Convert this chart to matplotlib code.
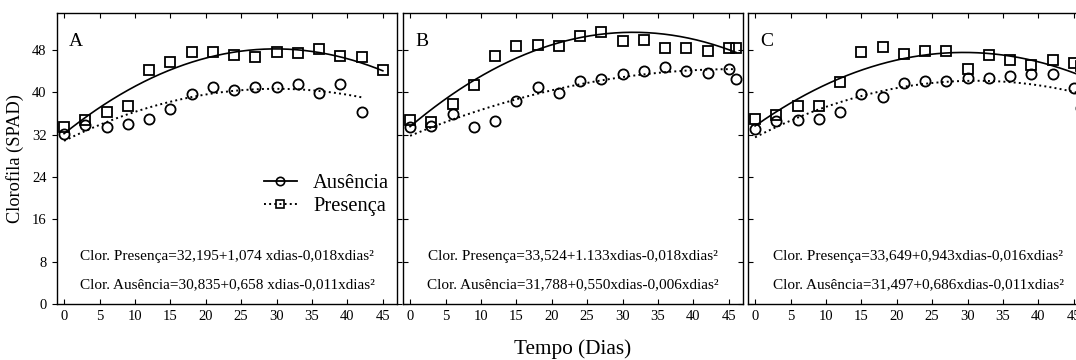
import numpy as np
import matplotlib
matplotlib.use('Agg')
import matplotlib.pyplot as plt
from matplotlib.lines import Line2D

plt.rcParams['font.family'] = ['Liberation Serif', 'DejaVu Serif']

# dias de avaliacao
dias_A = [0, 3, 6, 9, 12, 15, 18, 21, 24, 27, 30, 33, 36, 39, 42, 45]
dias_B = [0, 3, 6, 9, 12, 15, 18, 21, 24, 27, 30, 33, 36, 39, 42, 45, 46]
dias_C = [0, 3, 6, 9, 12, 15, 18, 21, 24, 27, 30, 33, 36, 39, 42, 45, 46]

# clorofila (SPAD)
pres_A = [33.4, 34.8, 36.3, 37.4, 44.3, 45.8, 47.6, 47.6, 47.1, 46.7, 47.6, 47.5, 48.2, 46.9, 46.7, 44.2]
aus_A = [32.1, 33.8, 33.5, 34.0, 35.0, 36.8, 39.6, 41.1, 40.4, 41.0, 41.1, 41.6, 39.8, 41.5, 36.3]

pres_B = [34.8, 34.4, 37.8, 41.3, 46.9, 48.8, 49.0, 48.7, 50.7, 51.4, 49.7, 49.9, 48.4, 48.4, 47.8, 48.3, 48.3]
aus_B = [33.5, 33.7, 35.9, 33.5, 34.5, 38.3, 41.0, 39.8, 42.1, 42.6, 43.5, 44.1, 44.7, 44.0, 43.6, 44.5, 42.5]

pres_C = [35.0, 35.7, 37.4, 37.5, 41.9, 47.6, 48.6, 47.3, 47.9, 47.9, 44.5, 47.0, 46.2, 45.2, 46.2, 45.5, 45.0]
aus_C = [33.1, 34.6, 34.7, 35.0, 36.2, 39.6, 39.2, 41.8, 42.2, 42.2, 42.7, 42.7, 43.0, 43.4, 43.5, 40.8, 37.1]

# coeficientes das equacoes mostradas (a + b*x + c*x^2)
coef_pres = {'A': (32.195, 1.074, -0.018), 'B': (33.524, 1.133, -0.018), 'C': (33.649, 0.943, -0.016)}
coef_aus = {'A': (30.835, 0.658, -0.011), 'B': (31.788, 0.550, -0.006), 'C': (31.497, 0.686, -0.011)}
fim_pres = {'A': 45, 'B': 46, 'C': 46}
fim_aus = {'A': 42, 'B': 46, 'C': 46}

eq_pres = {'A': 'Clor. Presença=32,195+1,074 xdias-0,018xdias²',
           'B': 'Clor. Presença=33,524+1.133xdias-0,018xdias²',
           'C': 'Clor. Presença=33,649+0,943xdias-0,016xdias²'}
eq_aus = {'A': 'Clor. Ausência=30,835+0,658 xdias-0,011xdias²',
          'B': 'Clor. Ausência=31,788+0,550xdias-0,006xdias²',
          'C': 'Clor. Ausência=31,497+0,686xdias-0,011xdias²'}

dados = {'A': (dias_A, pres_A, aus_A), 'B': (dias_B, pres_B, aus_B), 'C': (dias_C, pres_C, aus_C)}

W, H = 1076, 360
fig = plt.figure(figsize=(W / 100, H / 100), dpi=100)
lefts = {'A': 57, 'B': 403, 'C': 748}

for k in ['A', 'B', 'C']:
    ax = fig.add_axes([lefts[k] / W, 56 / H, 340 / W, 291 / H])
    dias, pres, aus = dados[k]

    xp = np.linspace(0, fim_pres[k], 200)
    a, b, c = coef_pres[k]
    ax.plot(xp, a + b * xp + c * xp ** 2, '-', color='black', lw=1.2)
    xa = np.linspace(0, fim_aus[k], 200)
    a, b, c = coef_aus[k]
    ax.plot(xa, a + b * xa + c * xa ** 2, ':', color='black', lw=1.4)

    ax.plot(dias[:len(pres)], pres, 's', mfc='none', mec='black', ms=7.3, mew=1.3)
    ax.plot(dias[:len(aus)], aus, 'o', mfc='none', mec='black', ms=7.3, mew=1.3)

    ax.set_xlim(-1, 47)
    ax.set_ylim(0, 55)
    ax.set_xticks(range(0, 50, 5))
    ax.set_yticks(range(0, 56, 8))
    ax.tick_params(direction='in', top=True, right=True, labelsize=10.5, length=3.5, pad=4)
    if k == 'A':
        ax.tick_params(axis='y', which='both', left=True, direction='out')
        ax.set_ylabel('Clorofila (SPAD)', fontsize=13.2, labelpad=6)
    else:
        ax.set_yticklabels([])
    for s in ax.spines.values():
        s.set_linewidth(1.0)

    ax.text(0.035, 0.93, k, transform=ax.transAxes, fontsize=14, va='top', ha='left')
    ax.text(0.5, 0.163, eq_pres[k], transform=ax.transAxes, fontsize=11, ha='center', va='center')
    ax.text(0.5, 0.067, eq_aus[k], transform=ax.transAxes, fontsize=11, ha='center', va='center')

    if k == 'A':
        handles = [Line2D([], [], color='black', ls='-', marker='o', mfc='none', ms=6, mew=1.2, lw=1.3),
                   Line2D([], [], color='black', ls=':', marker='s', mfc='none', ms=6, mew=1.2, lw=1.4)]
        ax.legend(handles, ['Ausência', 'Presença'], loc='center right', bbox_to_anchor=(1.02, 0.375),
                  frameon=False, fontsize=14.8, handlelength=1.6, handletextpad=0.8,
                  labelspacing=0.2, borderaxespad=0.3)

fig.text(573 / W, 1 - 349 / H, 'Tempo (Dias)', fontsize=15.3, ha='center', va='center')

fig.savefig('out.png', dpi=100)
